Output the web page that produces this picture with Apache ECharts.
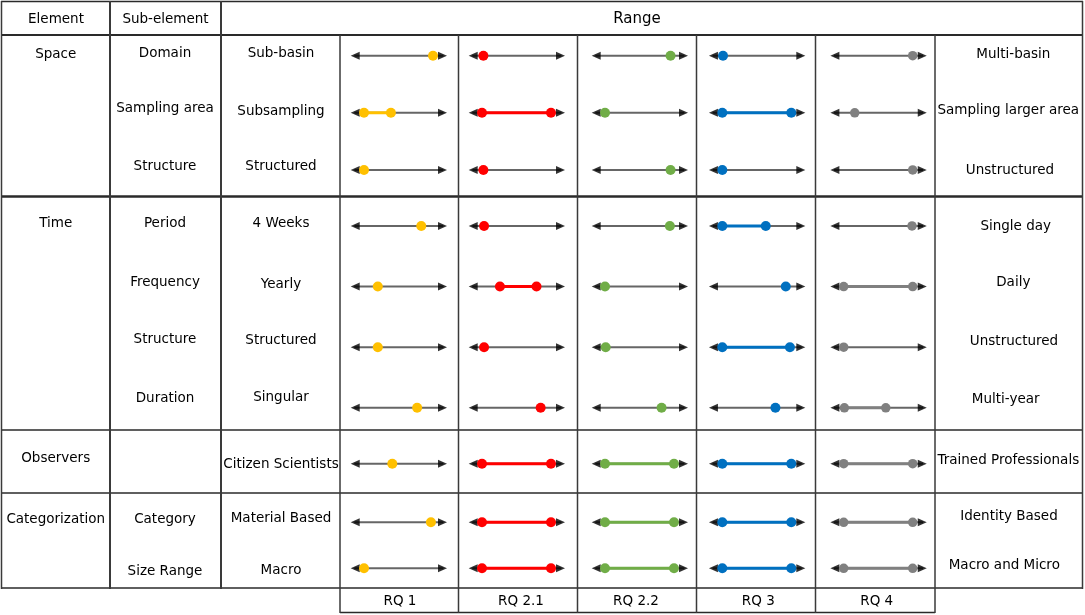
<!DOCTYPE html>
<html><head><meta charset="utf-8">
<script src="https://cdn.jsdelivr.net/npm/echarts@6/dist/echarts.min.js"></script>
<style>html,body{margin:0;padding:0;background:#fff}#c{width:1085px;height:615px}</style>
</head><body><div id="c"></div>
<script>
// ---------------- data ----------------
const headerLabels = ['Element', 'Sub-element', 'Range'];
const elements = ['Space', 'Time', 'Observers', 'Categorization'];
const sectionSizes = [3, 4, 1, 2];
const subElements = ['Domain', 'Sampling area', 'Structure', 'Period', 'Frequency', 'Structure', 'Duration', '', 'Category', 'Size Range'];
const lowLabels = ['Sub-basin', 'Subsampling', 'Structured', '4 Weeks', 'Yearly', 'Structured', 'Singular', 'Citizen Scientists', 'Material Based', 'Macro'];
const highLabels = ['Multi-basin', 'Sampling larger area', 'Unstructured', 'Single day', 'Daily', 'Unstructured', 'Multi-year', 'Trained Professionals', 'Identity Based', 'Macro and Micro'];
const rqLabels = ['RQ 1', 'RQ 2.1', 'RQ 2.2', 'RQ 3', 'RQ 4'];
// position of each research question on the range (0 = low end, 1 = high end)
const rq1  = [[1.0], [0, 0.39], [0], [0.83], [0.2], [0.2], [0.77], [0.41], [0.97], [0]];
const rq21 = [[0.02], [0, 1], [0.02], [0.03], [0.26, 0.79], [0.03], [0.85], [0, 1], [0, 1], [0, 1]];
const rq22 = [[0.95], [0], [0.95], [0.94], [0], [0.01], [0.82], [0, 1], [0, 1], [0, 1]];
const rq3  = [[0.01], [0, 1], [0], [0, 0.63], [0.92], [0, 0.98], [0.77], [0, 1], [0, 1], [0, 1]];
const rq4  = [[1.0], [0.16], [1.0], [0.99], [0, 1], [0], [0.01, 0.61], [0, 1], [0, 1], [0, 1]];
const rqData = [rq1, rq21, rq22, rq3, rq4];

// ---------------- layout / style ----------------
const colors = ['#FFC000', '#FF0000', '#70AD47', '#0070C0', '#808080'];
const colDot0 = [364, 482, 605, 722.3, 843.7];
const dotSpan = 69;
const XMIN = -0.19, XMAX = 1.2;
const sectionBands = [[27.1, 171.4], [195.6, 242.5], [443.7, 40], [499.3, 92]];
const FONT = 'Verdana, "DejaVu Sans", sans-serif';
const FS = 13.5;

const grids = [], xAxes = [], yAxes = [], series = [];
let gi = 0;
for (let c = 0; c < 5; c++) {
  let rs = 0;
  for (let s = 0; s < 4; s++) {
    const n = sectionSizes[s];
    const cats = [];
    for (let k = 0; k < n; k++) cats.push(String(k));
    grids.push({ left: colDot0[c] + XMIN * dotSpan, width: (XMAX - XMIN) * dotSpan, top: sectionBands[s][0], height: sectionBands[s][1], outerBoundsMode: 'none', containLabel: false });
    xAxes.push({ type: 'value', gridIndex: gi, min: XMIN, max: XMAX, show: false });
    yAxes.push({ type: 'category', gridIndex: gi, data: cats, inverse: true, show: false });
    const dots = [], heads = [];
    for (let k = 0; k < n; k++) {
      const vals = rqData[c][rs + k];
      // arrow shaft
      series.push({ type: 'line', xAxisIndex: gi, yAxisIndex: gi, data: [[-0.14, k], [1.15, k]], showSymbol: false, symbol: 'none', silent: true, z: 1,
        lineStyle: { color: '#666', width: 2 } });
      heads.push({ value: [-0.128, k], symbolRotate: 90 });
      heads.push({ value: [1.138, k], symbolRotate: -90 });
      if (vals.length > 1) {
        series.push({ type: 'line', xAxisIndex: gi, yAxisIndex: gi, data: vals.map(v => [v, k]), showSymbol: false, symbol: 'none', silent: true, z: 2,
          lineStyle: { color: colors[c], width: 3 } });
      }
      vals.forEach(v => dots.push([v, k]));
    }
    series.push({ type: 'scatter', xAxisIndex: gi, yAxisIndex: gi, data: heads, symbol: 'triangle', symbolSize: [8, 9], silent: true, z: 2,
      itemStyle: { color: '#000' } });
    series.push({ type: 'scatter', xAxisIndex: gi, yAxisIndex: gi, data: dots, symbol: 'circle', symbolSize: c === 4 ? 9.5 : 10, silent: true, z: 3,
      itemStyle: { color: colors[c], opacity: 1 } });
    rs += n;
    gi++;
  }
}

// ---------------- table graphics ----------------
const graphic = [];
function hline(y, x1, x2, w) { graphic.push({ type: 'line', shape: { x1: x1, y1: y, x2: x2, y2: y }, style: { stroke: '#2a2a2a', lineWidth: w }, z: 10 }); }
function vline(x, y1, y2, w) { graphic.push({ type: 'line', shape: { x1: x, y1: y1, x2: x, y2: y2 }, style: { stroke: '#3a3a3a', lineWidth: w }, z: 10 }); }
function text(t, x, y, size) {
  graphic.push({ type: 'text', x: x, y: y, z: 20,
    style: { text: t, font: (size || FS) + 'px ' + FONT, fill: '#000', align: 'center', verticalAlign: 'middle', textAlign: 'center', textVerticalAlign: 'middle' } });
}
hline(1.5, 1, 1083, 1.5);
hline(35, 1, 1083, 2);
hline(196.5, 1, 1083, 2.5);
hline(430, 1, 1083, 1.5);
hline(493, 1, 1083, 1.5);
hline(588, 1, 1083, 1.5);
hline(612.5, 340, 935, 1.5);
vline(1.5, 1, 589, 1.5);
vline(110, 1, 589, 2);
vline(221, 1, 589, 2);
[340, 458.5, 577.5, 696.5, 815.5, 935].forEach(x => vline(x, 35, 613, 1.5));
vline(1082.5, 1, 589, 1.5);

text(headerLabels[0], 56, 19.5);
text(headerLabels[1], 165.5, 19.5);
text(headerLabels[2], 637, 19.5, 15);

const elY = [54.3, 223.3, 458.3, 519];
elements.forEach((t, i) => text(t, 55.7, elY[i]));
const subY = [53.3, 108.3, 166.7, 223.3, 282.3, 339.7, 398.7, 460, 519.3, 571.7];
subElements.forEach((t, i) => { if (t) text(t, 165, subY[i]); });
const lowY = [53.3, 111.7, 166.7, 223.3, 284, 340.3, 397.3, 464, 518.7, 570.7];
lowLabels.forEach((t, i) => text(t, 281, lowY[i]));
const highX = [1013.3, 1008.3, 1010, 1015.7, 1013.3, 1014, 1005.7, 1008.3, 1009, 1004.3];
const highY = [54.3, 110.7, 170, 226, 282.7, 341, 399.3, 460.7, 516.3, 565.7];
highLabels.forEach((t, i) => text(t, highX[i], highY[i]));
const rqX = [400, 521, 636, 758.3, 876.7];
rqLabels.forEach((t, i) => text(t, rqX[i], 601.5));

const chart = echarts.init(document.getElementById('c'), null, { renderer: 'canvas' });
chart.setOption({
  animation: false,
  backgroundColor: '#fff',
  grid: grids,
  xAxis: xAxes,
  yAxis: yAxes,
  series: series,
  graphic: graphic
});
</script>
</body></html>
